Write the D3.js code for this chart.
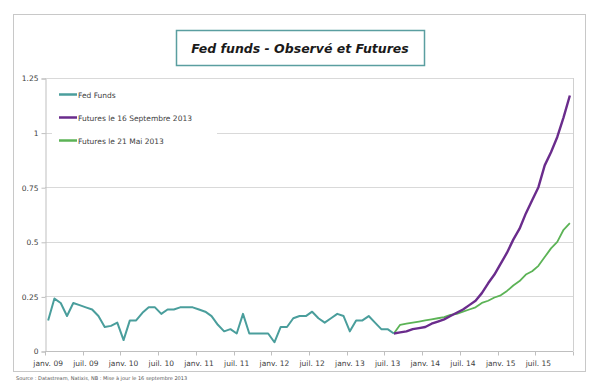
<!DOCTYPE html>
<html>
<head>
<meta charset="utf-8">
<script src="https://cdn.jsdelivr.net/npm/d3@7"></script>
<style>
  body { margin: 0; background: #fff; }
  svg text { font-family: "DejaVu Sans", sans-serif; }
</style>
</head>
<body>
<div id="chart"></div>
<script>
// months janv. 2009 -> déc. 2015 (84 categories)
var months = d3.timeMonth.range(new Date(2009, 0, 1), new Date(2016, 0, 1));

var tickLabels = ["janv. 09", "juil. 09", "janv. 10", "juil. 10", "janv. 11", "juil. 11", "janv. 12",
  "juil. 12", "janv. 13", "juil. 13", "janv. 14", "juil. 14", "janv. 15", "juil. 15"];

var yTicks = [0, 0.25, 0.5, 0.75, 1, 1.25];

// Fed funds observé, janv. 09 -> août 13
var fedFunds = [0.14, 0.24, 0.22, 0.16, 0.22, 0.21, 0.20, 0.19, 0.16, 0.11, 0.115, 0.13,
  0.05, 0.14, 0.14, 0.175, 0.20, 0.20, 0.17, 0.19, 0.19, 0.20, 0.20, 0.20,
  0.19, 0.18, 0.16, 0.12, 0.09, 0.10, 0.08, 0.17, 0.08, 0.08, 0.08, 0.08,
  0.04, 0.11, 0.11, 0.15, 0.16, 0.16, 0.18, 0.15, 0.13, 0.15, 0.17, 0.16,
  0.09, 0.14, 0.14, 0.16, 0.13, 0.10, 0.10, 0.08];

// futures, août 13 -> déc. 15
var futuresSept = [0.08, 0.085, 0.09, 0.10, 0.105, 0.11, 0.125, 0.135, 0.145, 0.16, 0.175, 0.19,
  0.21, 0.23, 0.265, 0.31, 0.35, 0.40, 0.45, 0.51, 0.56, 0.63, 0.69, 0.75, 0.85, 0.91, 0.98, 1.07, 1.17];
var futuresMai = [0.08, 0.12, 0.125, 0.13, 0.135, 0.14, 0.145, 0.15, 0.155, 0.165, 0.17, 0.18,
  0.19, 0.20, 0.22, 0.23, 0.245, 0.255, 0.275, 0.30, 0.32, 0.35, 0.365, 0.39, 0.43, 0.47, 0.50, 0.555, 0.585];

var seriesNames = ["Fed Funds", "Futures le 16 Septembre 2013", "Futures le 21 Mai 2013"];
var colors = ["#4a9e9c", "#6a2c8c", "#5cb356"];

var w = 595, h = 382;
var plotLeft = 45, plotRight = 573, plotTop = 78, plotBottom = 351;

var svg = d3.select("#chart").append("svg").attr("width", w).attr("height", h);

// outer frame
svg.append("rect").attr("x", 13.5).attr("y", 14.5).attr("width", 572).attr("height", 357)
  .attr("fill", "#fff").attr("stroke", "#c8c8c8");

var xScale = d3.scaleBand().domain(d3.range(months.length)).range([plotLeft, plotRight]).padding(0);
var xc = function (i) { return xScale(i) + xScale.bandwidth() / 2; };
var yScale = d3.scaleLinear().domain([0, 1.25]).range([plotBottom, plotTop]);

// gridlines
svg.append("g").selectAll("line").data(yTicks.slice(1)).enter().append("line")
  .attr("x1", plotLeft).attr("x2", plotRight)
  .attr("y1", function (d) { return Math.round(yScale(d)) + 0.5; })
  .attr("y2", function (d) { return Math.round(yScale(d)) + 0.5; })
  .attr("stroke", "#d9d9d9").attr("stroke-width", 1);

// right border of plot
svg.append("line").attr("x1", plotRight + 0.5).attr("x2", plotRight + 0.5).attr("y1", plotTop).attr("y2", plotBottom)
  .attr("stroke", "#d0d0d0");

// y axis
var yAxis = d3.axisLeft(yScale).tickValues(yTicks).tickSize(4).tickPadding(3)
  .tickFormat(function (d) { return d === 0 ? "0" : d3.format("")(d); });
var gy = svg.append("g").attr("transform", "translate(" + (plotLeft + 0.5) + ",0.5)").call(yAxis);
gy.select(".domain").attr("stroke", "#bfbfbf");
gy.selectAll(".tick line").attr("stroke", "#bfbfbf");
gy.selectAll("text").attr("fill", "#404040").style("font-size", "7.5px")
  .style("font-family", "'DejaVu Sans', sans-serif");

// x axis : ticks every 6 months at category boundaries
var gx = svg.append("g").attr("transform", "translate(0," + (plotBottom + 0.5) + ")");
gx.append("line").attr("x1", plotLeft).attr("x2", plotRight).attr("stroke", "#bfbfbf");
var tickIdx = d3.range(0, months.length + 1, 6);
gx.selectAll(".tk").data(tickIdx).enter().append("line")
  .attr("x1", function (i) { return Math.round(plotLeft + i * xScale.bandwidth()) + 0.5; })
  .attr("x2", function (i) { return Math.round(plotLeft + i * xScale.bandwidth()) + 0.5; })
  .attr("y1", 0).attr("y2", 4).attr("stroke", "#bfbfbf");
gx.selectAll("text").data(tickLabels).enter().append("text")
  .attr("x", function (d, k) { return xc(k * 6); })
  .attr("y", 14)
  .attr("text-anchor", "middle")
  .attr("fill", "#404040").style("font-size", "7.5px")
  .text(function (d) { return d; });

// lines
var line = d3.line()
  .x(function (d) { return xc(d.i); })
  .y(function (d) { return yScale(d.v); });

var start = fedFunds.length - 1;
var series = [
  fedFunds.map(function (v, i) { return { i: i, v: v }; }),
  futuresSept.map(function (v, k) { return { i: start + k, v: v }; }),
  futuresMai.map(function (v, k) { return { i: start + k, v: v }; })
];
var widths = [2, 2.4, 1.8];

// legend background hides gridline under legend
svg.append("rect").attr("x", 52).attr("y", 86).attr("width", 165).attr("height", 62).attr("fill", "#fff");

[2, 1, 0].forEach(function (s) {
  svg.append("path").datum(series[s])
    .attr("d", line)
    .attr("fill", "none")
    .attr("stroke", colors[s])
    .attr("stroke-width", widths[s])
    .attr("stroke-linejoin", "round");
});

// legend
var legend = svg.append("g");
seriesNames.forEach(function (name, k) {
  var ly = 94.5 + k * 23;
  legend.append("line").attr("x1", 59).attr("x2", 77).attr("y1", ly).attr("y2", ly)
    .attr("stroke", colors[k]).attr("stroke-width", 2.5);
  legend.append("text").attr("x", 78).attr("y", ly + 3).attr("fill", "#404040")
    .style("font-size", "7.5px").text(name);
});

// title box
svg.append("rect").attr("x", 176.5).attr("y", 30.5).attr("width", 248).attr("height", 35)
  .attr("fill", "#fff").attr("stroke", "#5a9ea0").attr("stroke-width", 1.5);
svg.append("text").attr("x", 300).attr("y", 53).attr("text-anchor", "middle")
  .attr("fill", "#1a1a1a")
  .style("font-size", "12.5px").style("font-weight", "bold").style("font-style", "italic")
  .text("Fed funds - Observé et Futures");

// source
svg.append("text").attr("x", 16).attr("y", 380).attr("fill", "#555")
  .style("font-size", "5px")
  .text("Source : Datastream, Natixis, NB : Mise à jour le 16 septembre 2013");
</script>
</body>
</html>
